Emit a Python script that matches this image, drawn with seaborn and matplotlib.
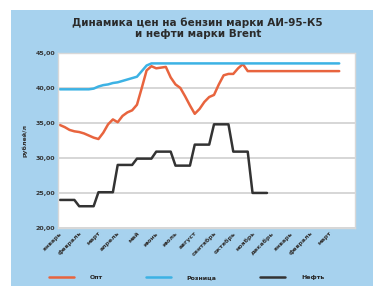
import matplotlib

matplotlib.use("Agg")

import matplotlib.pyplot as plt
import numpy as np
import pandas as pd
import seaborn as sns
from matplotlib.patches import Rectangle

# помесячные подписи оси X (тики каждые 4 недели)
MONTHS = [
    "январь", "февраль", "март", "апрель", "май", "июнь", "июль", "август",
    "сентябрь", "октябрь", "ноябрь", "декабрь", "январь", "февраль", "март",
]

# еженедельные значения, руб/л
WHOLESALE = [
    34.7, 34.4, 34.0, 33.8, 33.7, 33.5, 33.2, 32.9, 32.7, 33.6,
    34.8, 35.5, 35.1, 36.0, 36.5, 36.8, 37.6, 40.0, 42.5, 43.1,
    42.8, 42.9, 43.0, 41.5, 40.5, 40.0, 38.8, 37.5, 36.3, 37.0,
    38.0, 38.7, 39.0, 40.5, 41.8, 42.0, 42.0, 42.8, 43.4, 42.4,
    42.4, 42.4, 42.4, 42.4, 42.4, 42.4, 42.4, 42.4, 42.4, 42.4,
    42.4, 42.4, 42.4, 42.4, 42.4, 42.4, 42.4, 42.4, 42.4,
]
RETAIL = [
    39.8, 39.8, 39.8, 39.8, 39.8, 39.8, 39.8, 39.9, 40.2, 40.4,
    40.5, 40.7, 40.8, 41.0, 41.2, 41.4, 41.6, 42.4, 43.2, 43.5,
    43.5, 43.5, 43.5, 43.5, 43.5, 43.5, 43.5, 43.5, 43.5, 43.5,
    43.5, 43.5, 43.5, 43.5, 43.5, 43.5, 43.5, 43.5, 43.5, 43.5,
    43.5, 43.5, 43.5, 43.5, 43.5, 43.5, 43.5, 43.5, 43.5, 43.5,
    43.5, 43.5, 43.5, 43.5, 43.5, 43.5, 43.5, 43.5, 43.5,
]
OIL = [
    24.0, 24.0, 24.0, 24.0, 23.1, 23.1, 23.1, 23.1, 25.1, 25.1,
    25.1, 25.1, 29.0, 29.0, 29.0, 29.0, 29.9, 29.9, 29.9, 29.9,
    30.9, 30.9, 30.9, 30.9, 28.9, 28.9, 28.9, 28.9, 31.9, 31.9,
    31.9, 31.9, 34.8, 34.8, 34.8, 34.8, 30.9, 30.9, 30.9, 30.9,
    25.0, 25.0, 25.0, 25.0,
]
Y_TICKS = [20, 25, 30, 35, 40, 45]

BG = "#a7d2ee"
COLORS = {"Опт": "#e8643e", "Розница": "#3cb2e4", "Нефть": "#333333"}

frames = []
for name, values in [("Опт", WHOLESALE), ("Розница", RETAIL), ("Нефть", OIL)]:
    frames.append(pd.DataFrame({"week": np.arange(len(values)), "price": values, "series": name}))
data = pd.concat(frames, ignore_index=True)

sns.set_theme(style="white")
plt.rcParams["font.family"] = ["DejaVu Sans"]

fig = plt.figure(figsize=(3.73, 2.86), dpi=100)
fig.patch.set_facecolor("white")
fig.patches.append(Rectangle((11 / 373, 0), 1, 1 - 10 / 286, transform=fig.transFigure,
                             facecolor=BG, edgecolor="none", zorder=-10))

ax = fig.add_axes([0.1555, 0.203, 0.7965, 0.612])
sns.lineplot(data=data, x="week", y="price", hue="series", palette=COLORS,
             linewidth=1.8, ax=ax, legend=False)

ax.set_xlim(-0.4, 61.3)
ax.set_ylim(20, 45)
ax.set_yticks(Y_TICKS)
ax.set_yticklabels([f"{v},00" for v in Y_TICKS], fontsize=4.5, fontweight="bold", color="#333333")
ax.set_xticks(np.arange(len(MONTHS)) * 4)
ax.set_xticklabels(MONTHS, rotation=45, ha="right", rotation_mode="anchor",
                   fontsize=4.5, fontweight="bold", color="#333333")
ax.tick_params(axis="both", length=0, pad=2)
ax.yaxis.grid(True, color="#cfcfcf", linewidth=1.2)
ax.set_axisbelow(True)
for side in ax.spines.values():
    side.set_color("#d8d8d8")
    side.set_linewidth(1.0)
ax.set_xlabel("")
ax.set_ylabel("рублей/л", fontsize=4.5, fontweight="bold", color="#333333", labelpad=6)

fig.text(0.53, 0.9, "Динамика цен на бензин марки АИ-95-К5\nи нефти марки Brent",
         ha="center", va="center", fontsize=7.5, fontweight="bold", color="#2b2b2b",
         linespacing=1.1)

handles = [plt.Line2D([], [], color=c, linewidth=1.8) for c in COLORS.values()]
fig.legend(handles, list(COLORS.keys()), loc="center", bbox_to_anchor=(0.5, 0.03),
           ncol=3, frameon=False, fontsize=4.5, handlelength=4, columnspacing=7,
           handletextpad=2.5, prop={"weight": "bold", "size": 4.5})

fig.savefig("out.png", dpi=100, facecolor=fig.get_facecolor())
